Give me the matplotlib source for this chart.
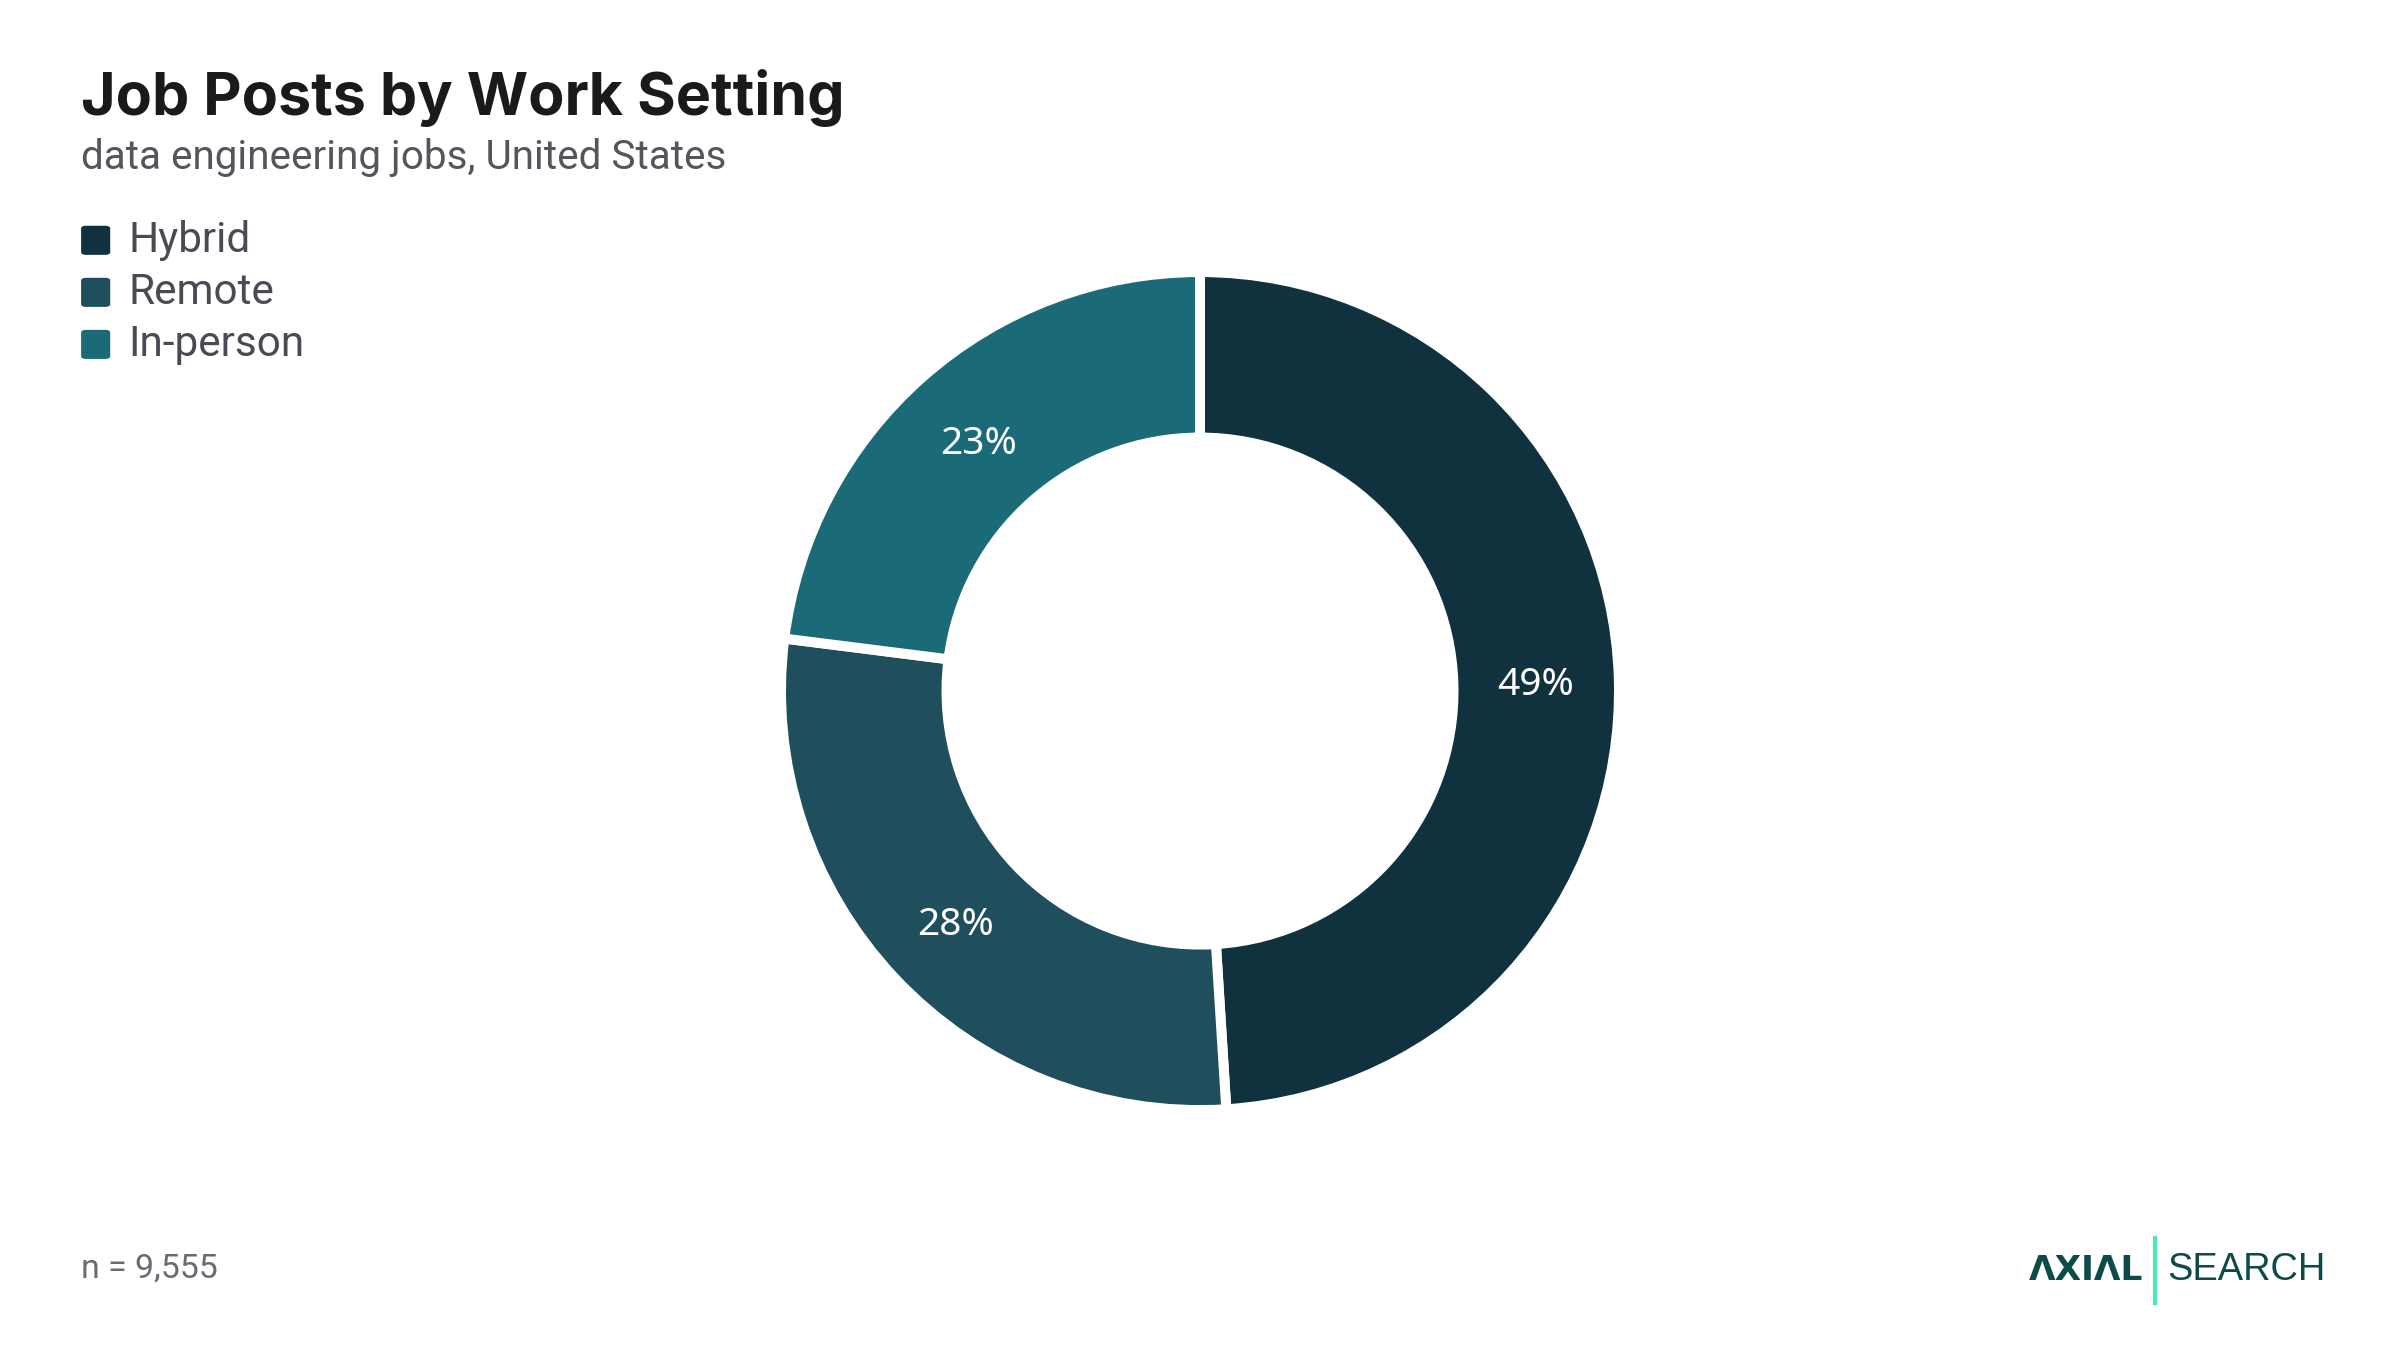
import matplotlib
matplotlib.use("Agg")
import matplotlib.pyplot as plt
from matplotlib.patches import FancyBboxPatch

categories = ["Hybrid", "Remote", "In-person"]
shares = [49, 28, 23]
colors = ["#10323e", "#1f4e5c", "#1b6a78"]
n_total = "9,555"

fig = plt.figure(figsize=(12, 6.75), dpi=200)
fig.patch.set_facecolor("white")

# donut
aw, ah = 838 / 2400, 838 / 1350
ax = fig.add_axes([0.5 - aw / 2, 0.4881 - ah / 2, aw, ah])
wedges, _, autotexts = ax.pie(
    shares,
    colors=colors,
    startangle=90,
    counterclock=False,
    radius=1.0,
    autopct="%d%%",
    pctdistance=0.80,
    wedgeprops=dict(width=0.395, edgecolor="white", linewidth=3.6),
    textprops=dict(color="white", fontsize=14, family="Noto Sans"),
)
# labels sit a touch lower in the original
for t in autotexts:
    x, y = t.get_position()
    t.set_position((x, y - 0.011))
ax.set_xlim(-1, 1)
ax.set_ylim(-1, 1)
ax.set_aspect("equal")
ax.axis("off")

# title block
fig.text(53 / 1568, 1 - 64 / 882, "Job Posts by Work Setting", fontsize=21.3,
         fontweight="bold", family="Inter", color="#1a1a1a", va="center")
fig.text(53 / 1568, 1 - 103 / 882, "data engineering jobs, United States",
         fontsize=14.6, family="Roboto", color="#55555e", va="center")

# legend
for i, (lab, col) in enumerate(zip(categories, colors)):
    yc = 1 - (157 + 34 * i) / 882
    box = FancyBboxPatch((53 / 1568, yc - 9.5 / 882), 19 / 1568, 19 / 882,
                         boxstyle="round,pad=0,rounding_size=0.002",
                         transform=fig.transFigure, facecolor=col,
                         edgecolor="none")
    fig.patches.append(box)
    fig.text(84 / 1568, yc, lab, fontsize=15.2, family="Roboto",
             color="#4a4a55", va="center")

# footer
fig.text(53 / 1568, 1 - 829 / 882, f"n = {n_total}", fontsize=12.2,
         family="Roboto", color="#6a6a72", va="center")

fig.text(1400 / 1568, 1 - 830 / 882, "ΛXIΛL", fontsize=12.4, fontweight="bold",
         family="DejaVu Sans", color="#0d4a4a", va="center", ha="right")
fig.add_artist(plt.Line2D([1408 / 1568, 1408 / 1568],
                          [1 - 809 / 882, 1 - 851 / 882],
                          transform=fig.transFigure, color="#4ee8b2", lw=1.5))
fig.text(1416 / 1568, 1 - 830 / 882, "SEARCH", fontsize=13.7,
         family="Liberation Sans", color="#0d4a4a", va="center")

fig.savefig("out.png", dpi=200)
